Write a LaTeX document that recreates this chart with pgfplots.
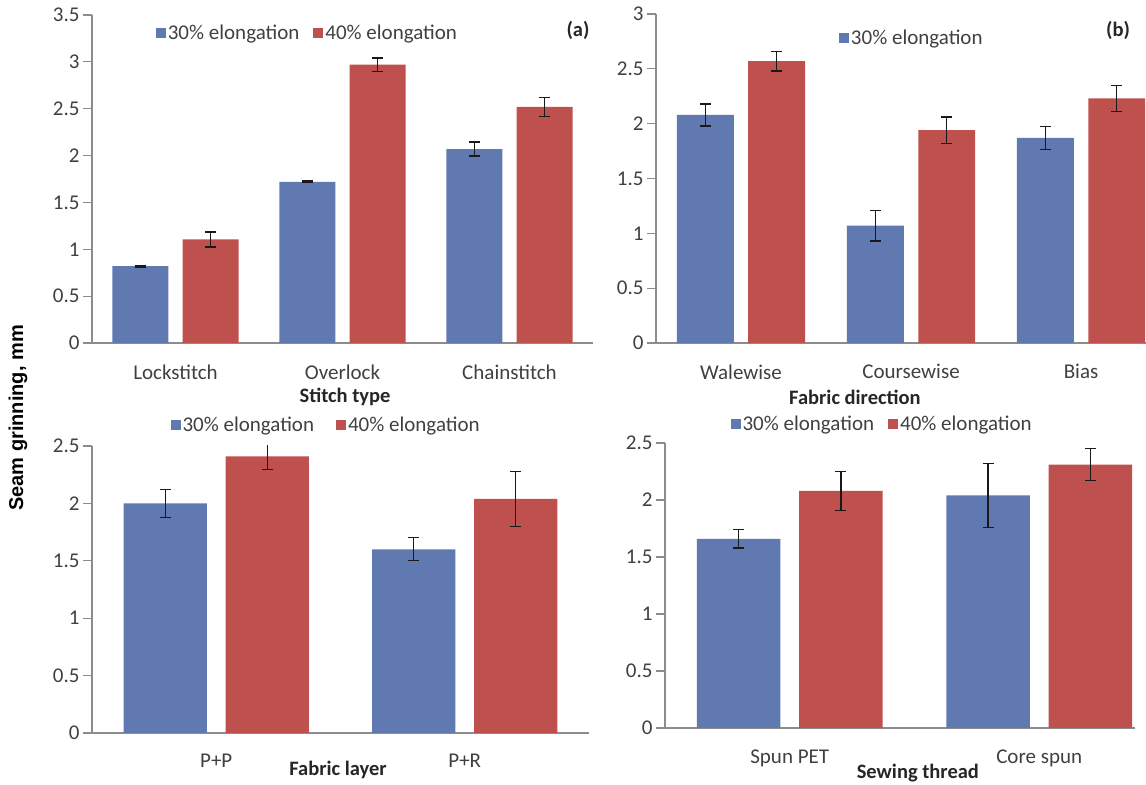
\documentclass[border=0pt]{standalone}
\usepackage{fontspec}
\setmainfont{Carlito}
\newfontfamily\arial{Liberation Sans}
\usepackage{pgfplots}
\pgfplotsset{compat=1.18}

\definecolor{barblue}{HTML}{6079B0}
\definecolor{barred}{HTML}{BE504D}
\definecolor{axisgray}{HTML}{8C8C8C}
\definecolor{labelgray}{HTML}{404040}
\definecolor{titlegray}{HTML}{262626}

\pgfplotsset{
  seam/.style={
    scale only axis,
    anchor=south west,
    ymin=0,
    enlarge x limits=false,
    axis x line*=bottom,
    axis y line*=left,
    axis line style={axisgray, line width=1.1bp},
    xtick style={draw=none},
    ytick style={axisgray, line width=1.1bp},
    tick align=outside,
    major tick length=9bp,
    /pgf/number format/assume math mode=true,
    tick label style={font=\fontsize{21bp}{21bp}\selectfont, text=labelgray},
    xticklabel style={yshift=-9bp},
    xlabel style={font=\bfseries\fontsize{20.5bp}{20.5bp}\selectfont, text=titlegray, anchor=center},
    error bars/y dir=both,
    error bars/y explicit,
    error bars/error bar style={black!90, line width=1.3bp},
    error bars/error mark options={rotate=90, mark size=5.5bp, black!90, line width=1.3bp},
    legend columns=2,
    legend style={draw=none, fill=none, font=\fontsize{21bp}{21bp}\selectfont, text=labelgray,
      anchor=center, /tikz/every even column/.append style={column sep=12bp}},
    legend image code/.code={\fill[#1, draw=none] (0bp,-5bp) rectangle (10bp,5bp);},
  },
  bluebar/.style={ybar, bar width=0.335, bar shift=0pt, fill=barblue, draw=none},
  redbar/.style={ybar, bar width=0.335, bar shift=0pt, fill=barred, draw=none},
}

\begin{document}
\begin{tikzpicture}
\useasboundingbox (0bp,0bp) rectangle (1146bp,785bp);

% (a) stitch type
\begin{axis}[seam, at={(92bp,442bp)}, width=501bp, height=328bp,
  xmin=-0.5, xmax=2.5, ymax=3.5, ytick={0,0.5,1,1.5,2,2.5,3,3.5},
  xtick={0,1,2}, xticklabels={Lockstitch,Overlock,Chainstitch},
  xlabel={Stitch type}, xlabel style={at={(axis description cs:0.505,0)}, yshift=-54bp},
  legend style={at={(axis description cs:0.43,0.945)}}]
\addplot[bluebar] coordinates {(-0.21,0.82) +- (0,0.01) (0.79,1.72) +- (0,0.01) (1.79,2.07) +- (0,0.075)};
\addplot[redbar] coordinates {(0.21,1.105) +- (0,0.08) (1.21,2.97) +- (0,0.07) (2.21,2.52) +- (0,0.1)};
\legend{30\% elongation, 40\% elongation}
\node[font=\bfseries\fontsize{20.5bp}{20.5bp}\selectfont, text=titlegray] at (axis description cs:0.97,0.954) {(a)};
\end{axis}

% (b) fabric direction
\begin{axis}[seam, at={(656bp,442bp)}, width=490bp, height=329bp,
  xmin=-0.5, xmax=2.382, ymax=3, ytick={0,0.5,1,1.5,2,2.5,3},
  xtick={0,1,2}, xticklabels={Walewise,Coursewise,Bias},
  xlabel={Fabric direction}, xlabel style={at={(axis description cs:0.406,0)}, yshift=-54bp},
  legend style={at={(axis description cs:0.522,0.927)}}]
\addplot[bluebar] coordinates {(-0.21,2.08) +- (0,0.1) (0.79,1.07) +- (0,0.14) (1.79,1.87) +- (0,0.105)};
\addplot[redbar] coordinates {(0.21,2.57) +- (0,0.09) (1.21,1.94) +- (0,0.12) (2.21,2.23) +- (0,0.12)};
\legend{30\% elongation}
\node[font=\bfseries\fontsize{20.5bp}{20.5bp}\selectfont, text=titlegray] at (axis description cs:0.943,0.951) {(b)};
\end{axis}

% (c) fabric layer
\begin{axis}[seam, at={(92bp,52bp)}, width=497bp, height=287bp,
  xmin=-0.5, xmax=1.5, ymax=2.5, ytick={0,0.5,1,1.5,2,2.5},
  xtick={0,1}, xticklabels={P+P,P+R},
  xlabel={Fabric layer}, xlabel style={at={(axis description cs:0.495,0)}, yshift=-37bp},
  legend style={at={(axis description cs:0.471,1.073)}, /tikz/every even column/.append style={column sep=20bp}}]
\addplot[bluebar] coordinates {(-0.205,2.00) +- (0,0.12) (0.795,1.60) +- (0,0.10)};
\addplot[redbar] coordinates {(0.205,2.41) +- (0,0.115) (1.205,2.04) +- (0,0.24)};
\legend{30\% elongation, 40\% elongation}
\node[font=\bfseries\fontsize{20.5bp}{20.5bp}\selectfont, text=titlegray] at (axis description cs:0.938,1.049) {(c)};
\end{axis}

% (d) sewing thread
\begin{axis}[seam, at={(665bp,57bp)}, width=470bp, height=285bp,
  xmin=-0.5, xmax=1.384, ymax=2.5, ytick={0,0.5,1,1.5,2,2.5},
  xtick={0,1}, xticklabels={Spun PET,Core spun},
  xlabel={Sewing thread}, xlabel style={at={(axis description cs:0.538,0)}, yshift=-45bp},
  legend style={at={(axis description cs:0.462,1.067)}}]
\addplot[bluebar] coordinates {(-0.205,1.66) +- (0,0.08) (0.795,2.04) +- (0,0.28)};
\addplot[redbar] coordinates {(0.205,2.08) +- (0,0.17) (1.205,2.31) +- (0,0.14)};
\legend{30\% elongation, 40\% elongation}
\node[font=\bfseries\fontsize{20.5bp}{20.5bp}\selectfont, text=titlegray] at (axis description cs:0.968,1.053) {(d)};
\end{axis}

\node[rotate=90, font=\arial\bfseries\fontsize{20bp}{20bp}\selectfont, text=black] at (18bp,367bp) {Seam grinning, mm};
\end{tikzpicture}
\end{document}
